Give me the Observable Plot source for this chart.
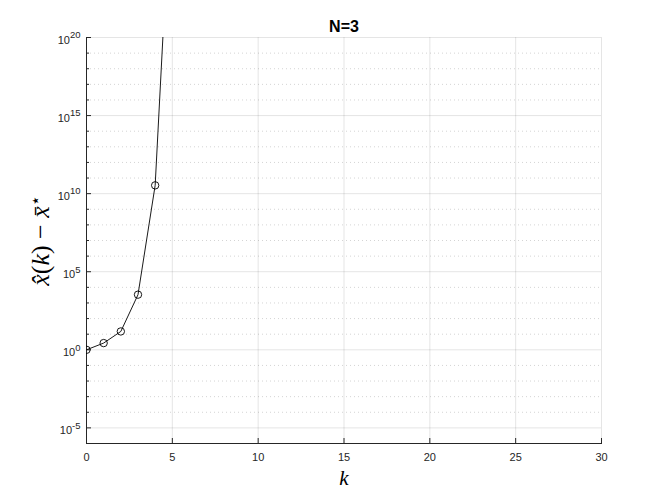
<!DOCTYPE html>
<html><head><meta charset="utf-8">
<script src="https://cdn.jsdelivr.net/npm/d3@7"></script>
<script src="https://cdn.jsdelivr.net/npm/@observablehq/plot@0.6"></script>
<style>body{margin:0;background:#fff}</style>
</head><body><div id="chart"></div>
<script>
const kValues = [0, 1, 2, 3, 4, 5, 6];
const errValues = [1, 2.7, 15, 3.4e3, 3.4e10, 4e31, 1e95];
const xTicks = [0, 5, 10, 15, 20, 25, 30];
const yMajorExps = [-5, 0, 5, 10, 15, 20];
const yMinorExps = [-4, -3, -2, -1, 1, 2, 3, 4, 6, 7, 8, 9, 11, 12, 13, 14, 16, 17, 18, 19];
const titleText = "N=3";

const data = kValues.map((k, i) => ({k, e: errValues[i]}));
const yMajor = yMajorExps.map(p => Math.pow(10, p));
const yMinor = yMinorExps.map(p => Math.pow(10, p));
const ink = "#262626";

const chart = Plot.plot({
  width: 664, height: 498,
  marginLeft: 86, marginRight: 63, marginTop: 37, marginBottom: 55,
  x: {domain: [0, 30]},
  y: {type: "log", domain: [1e-6, 1e20]},
  style: {fontFamily: "'Liberation Sans', Arial, sans-serif", fontSize: "11px", color: ink, background: "white"},
  marks: [
    Plot.gridY(yMinor, {stroke: ink, strokeOpacity: 0.2, strokeDasharray: "1,3"}),
    Plot.gridY(yMajor, {stroke: ink, strokeOpacity: 0.12}),
    Plot.gridX(xTicks.slice(1), {stroke: ink, strokeOpacity: 0.12}),
    Plot.frame({anchor: "left", stroke: ink}),
    Plot.frame({anchor: "bottom", stroke: ink}),
    Plot.axisX(xTicks, {tickSize: -5, tickPadding: 15, label: null, stroke: ink, fill: ink}),
    Plot.axisY(yMajor, {tickSize: -5, tickPadding: 11, label: null, stroke: ink, fill: ink,
      tickFormat: d => "10^" + Math.round(Math.log10(d))}),
    Plot.axisY(yMinor, {tickSize: -3, tickPadding: 9, label: null, stroke: ink, tickFormat: () => ""}),
    Plot.line(data, {x: "k", y: "e", stroke: "black", strokeWidth: 0.9, clip: true}),
    Plot.dot(data, {x: "k", y: "e", r: 3.7, stroke: "black", strokeWidth: 0.9, fill: "none", clip: true}),
    Plot.text([titleText], {frameAnchor: "top", lineAnchor: "bottom", dy: -6, fontWeight: "bold", fontSize: 16, fill: "black"}),
    Plot.text(["XLABEL"], {frameAnchor: "bottom", lineAnchor: "bottom", dy: 41, fontSize: 21, fill: "black"}),
    Plot.text(["YLABEL"], {frameAnchor: "left", textAnchor: "middle", lineAnchor: "middle", dx: -46, rotate: -90, fontSize: 26, fill: "black"})
  ]
});
document.getElementById("chart").appendChild(chart);

const svg = d3.select(chart);
svg.selectAll("text").each(function() {
  const t = this.textContent;
  const sel = d3.select(this);
  const m = /^10\^(-?\d+)$/.exec(t);
  if (m) {
    sel.text("");
    sel.append("tspan").attr("dy", "2.8px").text("10");
    sel.append("tspan").attr("dy", "-5.5px").attr("font-size", "9.5px").text(m[1]);
  } else if (t === "XLABEL") {
    sel.text("").attr("font-family", "'Liberation Serif', serif");
    sel.append("tspan").attr("font-style", "italic").text("k");
  } else if (t === "YLABEL") {
    sel.text("").attr("font-family", "'Liberation Serif', serif");
    sel.append("tspan").attr("font-style", "italic").text("x\u0302");
    sel.append("tspan").text("(");
    sel.append("tspan").attr("font-style", "italic").text("k");
    sel.append("tspan").text(") \u2212 ");
    sel.append("tspan").attr("font-style", "italic").text("x\u0304");
    sel.append("tspan").attr("dy", "-0.45em").attr("font-size", "17px").text("\u22C6");
  }
});
</script>
</body></html>
